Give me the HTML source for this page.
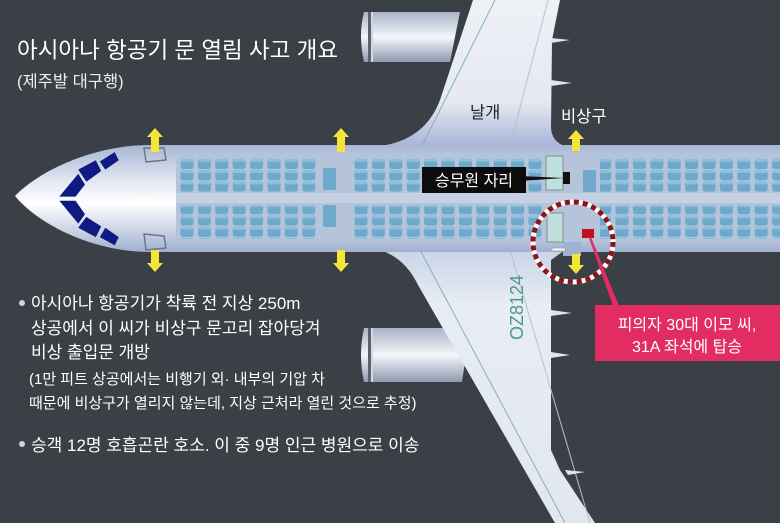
<!DOCTYPE html>
<html><head><meta charset="utf-8"><style>
html,body{margin:0;padding:0;background:#3b3f46;}
svg{display:block}
text{font-family:"Liberation Sans","Noto Sans CJK KR",sans-serif;}
</style></head><body>
<svg width="780" height="523" viewBox="0 0 780 523" xmlns="http://www.w3.org/2000/svg">
<defs>
<linearGradient id="fus" x1="0" y1="0" x2="0" y2="1">
<stop offset="0" stop-color="#a8b6d4"/><stop offset="0.35" stop-color="#e4e9f3"/><stop offset="0.55" stop-color="#ffffff"/><stop offset="1" stop-color="#9fb0cf"/>
</linearGradient>
<linearGradient id="wingU" x1="0" y1="0" x2="0" y2="1">
<stop offset="0" stop-color="#eef1f6"/><stop offset="0.7" stop-color="#e6e9f2"/><stop offset="1" stop-color="#a9b4d8"/>
</linearGradient>
<linearGradient id="wingL" x1="0" y1="0" x2="0" y2="1">
<stop offset="0" stop-color="#c9d4e6"/><stop offset="0.2" stop-color="#e8edf4"/><stop offset="1" stop-color="#e2e7ee"/>
</linearGradient>
<linearGradient id="eng" x1="0" y1="0" x2="0" y2="1">
<stop offset="0" stop-color="#a9b4c8"/><stop offset="0.5" stop-color="#f4f6fa"/><stop offset="1" stop-color="#8f9ab0"/>
</linearGradient>
<pattern id="seats" x="180" y="0" width="17.4" height="11.3" patternUnits="userSpaceOnUse">
<rect x="0.5" y="0.6" width="13" height="10.2" rx="2.5" fill="#6ea9cb"/>
<rect x="0.5" y="0.6" width="13" height="3" rx="1.5" fill="#8cc0dc"/>
</pattern>
</defs>
<rect width="780" height="523" fill="#3b3f46"/>

<!-- upper engine -->
<path d="M364,12 Q358,35 364,62 L450,62 L460,12 Z" fill="url(#eng)"/>
<rect x="368" y="12" width="5" height="50" fill="#5b6272"/>
<line x1="372" y1="12" x2="372" y2="62" stroke="#fff" stroke-width="1.5"/>
<!-- upper wing -->
<path d="M380,146 Q425,140 440,100 L473,0 L560,0 L552,40 L551,128 Q552,142 565,146 Z" fill="url(#wingU)"/>
<line x1="422" y1="146" x2="495" y2="0" stroke="#7fb5b5" stroke-width="1"/>
<line x1="510" y1="146" x2="548" y2="0" stroke="#b8bfd0" stroke-width="1"/>
<path d="M551,38 L570,40 L551,43Z M551,80 L572,83 L551,86Z" fill="#dfe4ee"/>

<!-- lower engine -->
<path d="M364,328 Q358,355 364,382 L462,382 L470,328 Z" fill="url(#eng)"/>
<rect x="368" y="328" width="5" height="54" fill="#5b6272"/>
<line x1="372" y1="328" x2="372" y2="382" stroke="#fff" stroke-width="1.5"/>
<!-- lower wing -->
<path d="M380,250 Q405,258 418,285 L555,523 L595,523 L560,470 L551,450 L551,260 L565,250 Z" fill="url(#wingL)"/>
<line x1="420" y1="250" x2="565" y2="523" stroke="#7fb5b5" stroke-width="1"/>
<line x1="510" y1="250" x2="590" y2="523" stroke="#b8bfd0" stroke-width="1"/>
<path d="M551,310 L572,313 L551,316Z M551,352 L570,355 L551,358Z M565,470 L585,472 L568,475Z" fill="#dfe4ee"/>

<!-- fuselage -->
<path d="M780,145 L150,145 C95,145 40,170 15,196 C40,226 95,252 150,252 L780,252 Z" fill="url(#fus)"/>
<!-- cabin -->
<rect x="176" y="153" width="610" height="88" rx="6" fill="#b5c4da"/>
<rect x="176" y="193" width="610" height="10" fill="#c4d1e3"/>
<!-- seats -->
<rect x="180" y="158" width="139" height="34" fill="url(#seats)"/>
<rect x="180" y="205" width="139" height="34" fill="url(#seats)"/>
<rect x="323" y="168" width="13" height="22" rx="2" fill="#6ea9cb"/>
<rect x="323" y="205" width="13" height="22" rx="2" fill="#6ea9cb"/>
<rect x="350" y="158" width="192" height="34" fill="url(#seats)"/>
<rect x="350" y="205" width="192" height="34" fill="url(#seats)"/>
<rect x="583" y="170" width="13" height="22" rx="2" fill="#6ea9cb"/>
<rect x="600" y="158" width="185" height="34" fill="url(#seats)"/>
<rect x="600" y="205" width="185" height="34" fill="url(#seats)"/>
<!-- galleys -->
<rect x="546" y="156" width="17" height="34" fill="#bfe0dc" stroke="#8a9a9a" stroke-width="1.2"/>
<rect x="547" y="213" width="16" height="29" fill="#bfe0dc" stroke="#8a9a9a" stroke-width="1.2"/>
<rect x="563" y="242" width="18" height="14" fill="#9fb2cf"/>
<rect x="552" y="248" width="13" height="3" fill="#eef2f8" stroke="#8a9a9a" stroke-width="0.6"/>
<!-- doors front -->
<path d="M144,148 L164,148 L166,160 L146,162 Z" fill="none" stroke="#6b7384" stroke-width="1.4"/>
<path d="M144,234 L164,236 L166,248 L146,250 Z" fill="none" stroke="#6b7384" stroke-width="1.4"/>
<rect x="142" y="197" width="7" height="3" fill="#fff"/>
<!-- cockpit windows -->
<g fill="#0f1a82" transform="translate(85,198) scale(1.35) translate(-85,-198)">
<path d="M96,171 L107,164 L110,170 L100,177Z"/>
<path d="M80,177 L93,170 L97,178 L86,186Z"/>
<path d="M66,197 L80,180 L85,188 L78,197Z"/>
<path d="M66,200 L78,200 L85,210 L80,217Z"/>
<path d="M80,220 L86,212 L97,219 L93,227Z"/>
<path d="M96,227 L100,220 L110,227 L107,233Z"/>
</g>
<!-- yellow arrows -->
<g fill="#f5e43a">
<path d="M155,128 L163,137 L159,137 L159,152 L151,152 L151,137 L147,137Z"/>
<path d="M155,272 L163,263 L159,263 L159,250 L151,250 L151,263 L147,263Z"/>
<path d="M341,128 L349,137 L345,137 L345,152 L337,152 L337,137 L333,137Z"/>
<path d="M341,272 L349,263 L345,263 L345,250 L337,250 L337,263 L333,263Z"/>
<path d="M576,130 L584,139 L580,139 L580,151 L572,151 L572,139 L568,139Z"/>
<path d="M576,274 L584,265 L580,265 L580,254 L572,254 L572,265 L568,265Z"/>
</g>
<!-- crew seat label -->
<rect x="563" y="172" width="7" height="12" fill="#111"/>
<path d="M520,176 L564,178 L520,181Z" fill="#111"/>
<rect x="422" y="167" width="104" height="26" fill="#0c0c0c"/>
<text x="474" y="186" font-size="16" fill="#fff" text-anchor="middle">승무원 자리</text>
<!-- dashed circle -->
<circle cx="573" cy="242" r="40" fill="none" stroke="#fff" stroke-width="5"/>
<circle cx="573" cy="242" r="40" fill="none" stroke="#8e1418" stroke-width="5" stroke-dasharray="5 4"/>
<rect x="582" y="229" width="12" height="9" fill="#c0101c"/>
<path d="M589,238 L613,306 L619,306 L591,237Z" fill="#e22d62"/>
<rect x="595" y="305" width="185" height="56" fill="#e22d62"/>
<text x="687" y="330" font-size="16" fill="#fff" text-anchor="middle">피의자 30대 이모 씨,</text>
<text x="687" y="352" font-size="16" fill="#fff" text-anchor="middle">31A 좌석에 탑승</text>
<!-- labels -->
<text x="470" y="118" font-size="16.5" fill="#222">날개</text>
<text x="561" y="122" font-size="16.5" fill="#fff">비상구</text>
<text transform="translate(523,340) rotate(-90)" font-size="18" fill="#4a9a90">OZ8124</text>
<!-- title -->
<text x="17" y="58" font-size="22.5" fill="#fff">아시아나 항공기 문 열림 사고 개요</text>
<text x="17" y="87" font-size="16.5" fill="#eee">(제주발 대구행)</text>
<!-- bullets -->
<circle cx="22" cy="303" r="3" fill="#cfd3da"/>
<text x="31" y="309" font-size="17" fill="#fff">아시아나 항공기가 착륙 전 지상 250m</text>
<text x="31" y="334" font-size="17" fill="#fff">상공에서 이 씨가 비상구 문고리 잡아당겨</text>
<text x="31" y="358" font-size="17" fill="#fff">비상 출입문 개방</text>
<text x="29" y="384" font-size="15" fill="#fff">(1만 피트 상공에서는 비행기 외· 내부의 기압 차</text>
<text x="29" y="408" font-size="15" fill="#fff">때문에 비상구가 열리지 않는데, 지상 근처라 열린 것으로 추정)</text>
<circle cx="22" cy="444" r="3" fill="#cfd3da"/>
<text x="31" y="451" font-size="17" fill="#fff">승객 12명 호흡곤란 호소. 이 중 9명 인근 병원으로 이송</text>
</svg>
</body></html>
